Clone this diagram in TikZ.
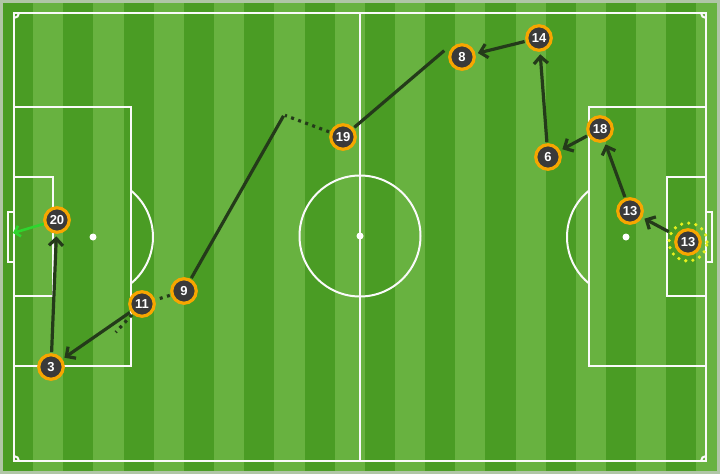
\documentclass[tikz,border=0pt]{standalone}
\usepackage{fontspec}
\setmainfont{Liberation Sans}
\usepackage{xcolor}
\usepackage{tikz}
\usetikzlibrary{arrows.meta}
\definecolor{pitchdark}{RGB}{74,156,36}
\definecolor{pitchlight}{RGB}{104,178,64}
\definecolor{pitchedge}{RGB}{176,198,166}
\definecolor{passline}{RGB}{36,58,26}
\definecolor{ringorange}{RGB}{247,166,0}
\definecolor{discfill}{RGB}{58,58,58}
\definecolor{shotgreen}{RGB}{46,214,46}
\definecolor{halo}{RGB}{232,240,30}

\begin{document}
\begin{tikzpicture}[x=1pt,y=-1pt,
player/.style={circle,draw=ringorange,line width=3.2pt,fill=discfill,minimum size=24.5pt,inner sep=0pt,
  text=white,font=\bfseries\fontsize{13}{13}\selectfont},
runline/.style={draw=passline,line width=3.2pt,shorten >=1pt,shorten <=1pt},
pass/.style={runline,arrows={-Straight Barb[length=7pt,width=14pt]},shorten >=2.5pt},
carry/.style={runline,dash pattern=on 3pt off 4.5pt},
shot/.style={draw=shotgreen,line width=2.6pt,arrows={-Straight Barb[length=5pt,width=11pt]}},
chalk/.style={draw=white!96!gray,line width=2pt}]
\useasboundingbox (0,0) rectangle (720,474);
\fill[pitchedge] (0,0) rectangle (720,474);
\fill[pitchlight] (3,3) rectangle (717,471);
\foreach \i in {0,...,11}
  \fill[pitchdark] ({3+60.3*\i},3) rectangle ++(30.15,468);
\draw[chalk] (14,13) rectangle (706,461);
\draw[chalk] (360,13) -- (360,461);
\draw[chalk] (360,236) circle (60.5pt);
\fill[white] (360,236) circle (3.5pt);
\draw[chalk] (14,107) rectangle (131,366);
\draw[chalk] (706,107) rectangle (589,366);
\draw[chalk] (14,177) rectangle (53,296);
\draw[chalk] (706,177) rectangle (667,296);
\draw[chalk] (14,212) rectangle (8,262);
\draw[chalk] (706,212) rectangle (712,262);
\fill[white] (93,237) circle (3.5pt);
\fill[white] (626,237) circle (3.5pt);
\draw[chalk] (131,190.6) arc [start angle=50.7, end angle=-50.7, radius=60pt];
\draw[chalk] (589,190.6) arc [start angle=129.3, end angle=230.7, radius=60pt];
\draw[chalk] (19,13) arc [start angle=0, end angle=-90, radius=5pt];
\draw[chalk] (701,13) arc [start angle=180, end angle=270, radius=5pt];
\draw[chalk] (19,461) arc [start angle=0, end angle=90, radius=5pt];
\draw[chalk] (701,461) arc [start angle=180, end angle=90, radius=5pt];

\node[player] (n13a) at (688,242) {13};
\draw[halo,line width=3.6pt,line cap=round,dash pattern=on 0pt off 7.26pt] (n13a.center) circle (19pt);
\node[player] (n13b) at (630,211) {13};
\node[player] (n18) at (600,129) {18};
\node[player] (n6) at (548,157) {6};
\node[player] (n14) at (539,38) {14};
\node[player] (n8) at (462,57) {8};
\node[player] (n19) at (343,137) {19};
\node[player] (n9) at (184,291) {9};
\node[player] (n11) at (142,304) {11};
\node[player] (n3) at (51,367) {3};
\node[player] (n20) at (57,220) {20};
\coordinate (take8) at (445,50);
\coordinate (run19) at (284,115);
\coordinate (run11) at (115,333);
\coordinate (goalmouth) at (13,233);

\draw[pass,shorten <=8pt] (n13a) -- (n13b);
\draw[pass] (n13b) -- (n18);
\draw[pass] (n18) -- (n6);
\draw[pass] (n6) -- (n14);
\draw[pass] (n14) -- (n8);
\draw[runline] (take8) -- (n19);
\draw[carry] (n19) -- (run19);
\draw[runline] (run19) -- (n9);
\draw[carry] (n9) -- (n11);
\draw[carry] (n11) -- (run11);
\draw[pass] (n11) -- (n3);
\draw[pass] (n3) -- (n20);
\draw[shot] (n20) -- (goalmouth);
\end{tikzpicture}
\end{document}
